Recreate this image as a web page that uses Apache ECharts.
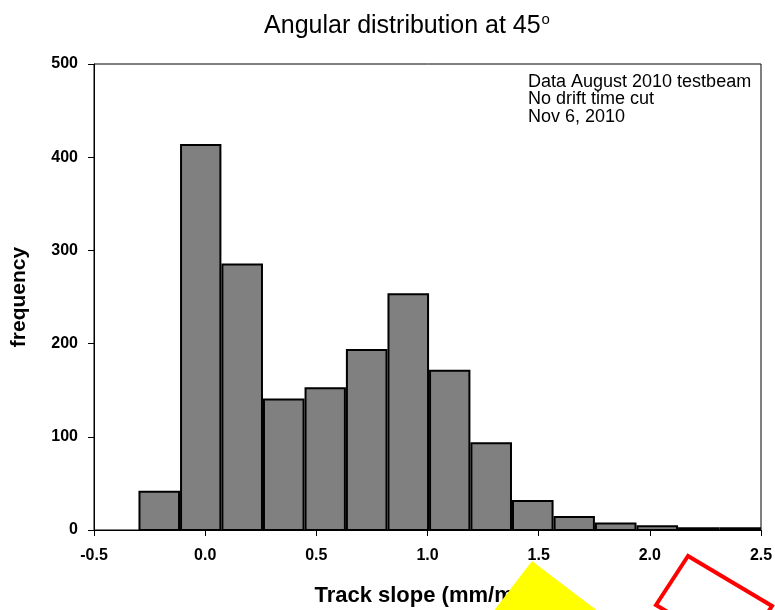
<!DOCTYPE html>
<html>
<head>
<meta charset="utf-8">
<script src="https://cdn.jsdelivr.net/npm/echarts@6/dist/echarts.min.js"></script>
<style>
  html, body { margin: 0; padding: 0; background: #fff; }
  #chart { width: 775px; height: 610px; }
</style>
</head>
<body>
<div id="chart"></div>
<script>
// Histogram bin edges (track slope, mm/mm) and counts per bin
const binEdges = [-0.3, -0.113, 0.073, 0.26, 0.447, 0.633, 0.82, 1.007, 1.193, 1.38, 1.567, 1.753, 1.94, 2.127, 2.313, 2.5];
const counts = [41, 413, 285, 140, 152, 193, 253, 171, 93, 31, 14, 7, 4, 2, 2];

const xTicks = [-0.5, 0.0, 0.5, 1.0, 1.5, 2.0, 2.5];
const yTicks = [0, 100, 200, 300, 400, 500];

const noteLines = ['Data August 2010 testbeam', 'No drift time cut', 'Nov 6, 2010'];

const FONT = '"Liberation Sans", Arial, sans-serif';

const binData = counts.map((c, i) => [binEdges[i], binEdges[i + 1], c]);

const chart = echarts.init(document.getElementById('chart'), null, { renderer: 'canvas' });

chart.setOption({
  backgroundColor: '#fff',
  animation: false,
  grid: {
    left: 94, right: 14, top: 64, bottom: 80,
    containLabel: false, outerBoundsMode: 'none',
    show: true, borderColor: '#000', borderWidth: 1, backgroundColor: 'transparent'
  },
  xAxis: {
    type: 'value',
    min: xTicks[0], max: xTicks[xTicks.length - 1], interval: 0.5,
    axisLine: { onZero: false, lineStyle: { color: '#000', width: 1 } },
    axisTick: { show: true, length: 6, lineStyle: { color: '#000' } },
    splitLine: { show: false },
    axisLabel: {
      color: '#000', fontFamily: FONT, fontWeight: 'bold', fontSize: 16, margin: 18,
      formatter: v => v.toFixed(1)
    },
    name: 'Track slope (mm/mm)',
    nameLocation: 'middle', nameGap: 55,
    nameTextStyle: { color: '#000', fontFamily: FONT, fontWeight: 'bold', fontSize: 22 }
  },
  yAxis: {
    type: 'value',
    min: yTicks[0], max: yTicks[yTicks.length - 1], interval: 100,
    axisLine: { show: true, onZero: false, lineStyle: { color: '#000', width: 1 } },
    axisTick: { show: true, length: 6, lineStyle: { color: '#000' } },
    splitLine: { show: false },
    axisLabel: { color: '#000', fontFamily: FONT, fontWeight: 'bold', fontSize: 16, margin: 16 },
    name: 'frequency',
    nameLocation: 'middle', nameGap: 64,
    nameTextStyle: { color: '#000', fontFamily: FONT, fontWeight: 'bold', fontSize: 21 }
  },
  series: [{
    type: 'custom',
    data: binData,
    encode: { x: [0, 1], y: 2 },
    renderItem: function (params, api) {
      const p0 = api.coord([api.value(0), api.value(2)]);
      const p1 = api.coord([api.value(1), 0]);
      return {
        type: 'rect',
        shape: { x: p0[0] + 1, y: p0[1], width: p1[0] - p0[0] - 2, height: p1[1] - p0[1] },
        style: { fill: '#808080', stroke: '#000', lineWidth: 2 }
      };
    }
  }],
  graphic: [
    {
      type: 'text', x: 407, y: 12,
      style: {
        text: '{t|Angular distribution at 45}{s|o}',
        textAlign: 'center',
        rich: {
          t: { fontFamily: FONT, fontSize: 25, fill: '#000' },
          s: { fontFamily: FONT, fontSize: 15, fill: '#000', verticalAlign: 'top', padding: [0, 0, 14, 1] }
        }
      }
    },
    {
      type: 'text', x: 528, y: 73,
      style: {
        text: noteLines.join('\n'),
        fontFamily: FONT, fontSize: 18, lineHeight: 17.5, fill: '#000'
      }
    },
    {
      type: 'polygon',
      shape: { points: [[532, 561], [493, 612], [599, 612]] },
      style: { fill: '#ffff00' },
      z: 100
    },
    {
      type: 'polygon',
      shape: { points: [[688, 556], [656, 605], [740, 655], [772, 606]] },
      style: { fill: 'none', stroke: '#ff0000', lineWidth: 4 },
      z: 100
    }
  ]
});
</script>
</body>
</html>
